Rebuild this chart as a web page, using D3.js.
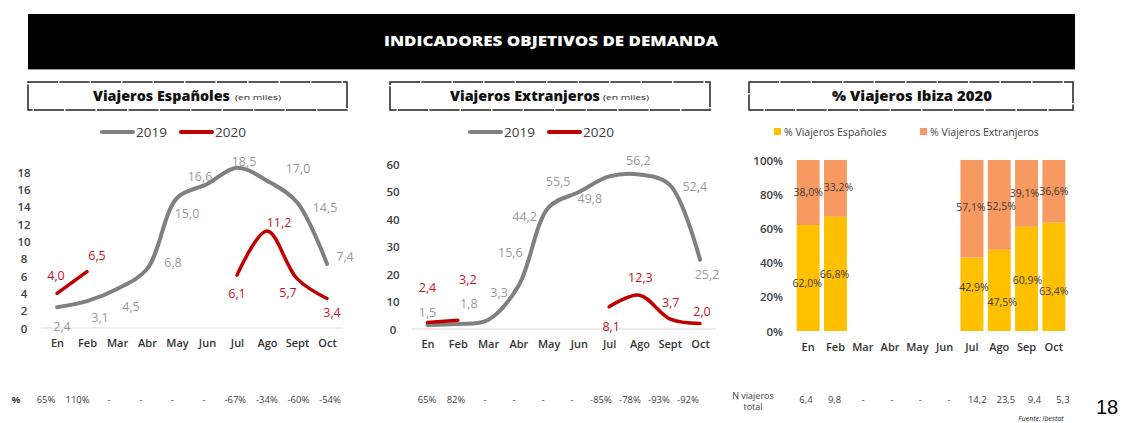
<!DOCTYPE html>
<html><head><meta charset="utf-8">
<script src="https://cdn.jsdelivr.net/npm/d3@7"></script>
<style>
html,body{margin:0;padding:0;background:#fff;}
svg{display:block;font-family:"Open Sans",sans-serif;}
</style></head>
<body>
<svg id="c" width="1121" height="423"></svg>
<script>
// ---------- DATA ----------
const months = ["En","Feb","Mar","Abr","May","Jun","Jul","Ago","Sept","Oct"];
const monthsPct = ["En","Feb","Mar","Abr","May","Jun","Jul","Ago","Sep","Oct"];
const esp2019 = [2.4,3.1,4.5,6.8,15.0,16.6,18.5,17.0,14.5,7.4];
const esp2020 = [4.0,6.5,null,null,null,null,6.1,11.2,5.7,3.4];
const ext2019 = [1.5,1.8,3.3,15.6,44.2,49.8,55.5,56.2,52.4,25.2];
const ext2020 = [2.4,3.2,null,null,null,null,8.1,12.3,3.7,2.0];
const pctEsp = [62.0,66.8,null,null,null,null,42.9,47.5,60.9,63.4];
const pctExt = [38.0,33.2,null,null,null,null,57.1,52.5,39.1,36.6];
const espTicks = [0,2,4,6,8,10,12,14,16,18];
const extTicks = [0,10,20,30,40,50,60];
const pctTicks = [0,20,40,60,80,100];
const varEsp = ["65%","110%","-","-","-","-","-67%","-34%","-60%","-54%"];
const varExt = ["65%","82%","-","-","-","-","-85%","-78%","-93%","-92%"];
const totalViajeros = ["6,4","9,8","-","-","-","-","14,2","23,5","9,4","5,3"];
const seriesNames = ["2019","2020"];
const pctNames = ["% Viajeros Españoles","% Viajeros Extranjeros"];

// ---------- label placement (offsets from point) ----------
const offEsp19 = [[5,19],[13,16],[14,17],[26,-7],[10,15],[-7,-8],[7,-6],[31,-12],[28,5],[18,-7]];
const offEsp20 = [[-1,-18],[10,-16],null,null,null,null,[0,18],[12,-8],[-9,14],[5,14]];
const offExt19 = [[0,-12],[11,-21],[11,-27],[-8,-34],[-24,9],[11,6],[-51,5],[-1,-14],[25,2],[7,15]];
const offExt20 = [[0,-35],[10,-41],null,null,null,null,[2,20],[1,-18],[1,-16],[2,-12]];
const offPctEsp = [[-1,5],[-1,0],null,null,null,null,[2,-7],[3,12],[1,1],[0,14]];
const offPctExt = [[0,0],[3,-1],null,null,null,null,[-1,-2],[2,1],[-2,0],[0,0]];

const GRAY="#808080", RED="#C00000", TXT="#404040", YEL="#FFC000", ORA="#F79A62";
const fmt = v => d3.format(".1f")(v).replace(".",",");

const svg = d3.select("#c");

// ---------- header ----------
svg.append("rect").attr("x",28).attr("y",14).attr("width",1047).attr("height",55).attr("fill","#000");
svg.append("line").attr("x1",28).attr("x2",1075).attr("y1",69.5).attr("y2",69.5).attr("stroke","#999");
svg.append("text").attr("x",551).attr("y",46).attr("text-anchor","middle")
  .attr("fill","#fff").attr("font-weight",800).attr("font-size",14)
  .attr("textLength",334).attr("lengthAdjust","spacingAndGlyphs")
  .text("INDICADORES OBJETIVOS DE DEMANDA");

function titleBox(x0,x1,title,tx,tw,sub,sx,sw){
  svg.append("rect").attr("x",x0).attr("y",82).attr("width",x1-x0).attr("height",28)
    .attr("fill","none").attr("stroke","#222").attr("stroke-width",1.5).attr("stroke-dasharray","30,1.5");
  svg.append("text").attr("x",tx).attr("y",101).attr("font-weight",800).attr("font-size",13.5)
    .attr("fill","#111").attr("textLength",tw).attr("lengthAdjust","spacingAndGlyphs").text(title);
  if(sub) svg.append("text").attr("x",sx).attr("y",100).attr("font-size",8).attr("fill","#222")
    .attr("textLength",sw).attr("lengthAdjust","spacingAndGlyphs").text(sub);
}
titleBox(28,347,"Viajeros Españoles",93,137,"(en miles)",235,46);
titleBox(390,710,"Viajeros Extranjeros",450,150,"(en miles)",603,46);
titleBox(749,1073,"% Viajeros Ibiza 2020",832,160,null);

// ---------- line chart helper ----------
function lineChart(cfg){
  const g = svg.append("g");
  const x = d3.scalePoint(months,[cfg.x0,cfg.x1]);
  const y = d3.scaleLinear(cfg.domain,[cfg.yb,cfg.yt]);
  const step = x.step();
  g.append("line").attr("x1",cfg.x0-step*0.53).attr("x2",cfg.x1+step*0.53)
    .attr("y1",y(0)).attr("y2",y(0)).attr("stroke","#d9d9d9").attr("stroke-width",1);
  const ya = g.append("g").attr("transform",`translate(${cfg.tickX},0)`)
    .call(d3.axisLeft(y).tickValues(cfg.ticks).tickSize(0).tickPadding(0));
  ya.select(".domain").remove();
  ya.selectAll("text").attr("text-anchor","middle").attr("font-size",11.5)
    .attr("font-family","Open Sans").attr("font-weight",600).attr("fill",TXT).attr("dy","0.36em");
  const xa = g.append("g").attr("transform",`translate(0,${y(0)})`)
    .call(d3.axisBottom(x).tickSize(0).tickPadding(11));
  xa.select(".domain").remove();
  xa.selectAll("text").attr("font-size",11).attr("font-family","Open Sans").attr("font-weight",600).attr("fill","#333");
  const line = d3.line().defined(d=>d.v!=null).x(d=>x(d.m)).y(d=>y(d.v)).curve(d3.curveCatmullRom.alpha(0.5));
  const s19 = months.map((m,i)=>({m,v:cfg.s19[i],i}));
  const s20 = months.map((m,i)=>({m,v:cfg.s20[i],i}));
  g.append("path").attr("d",line(s19)).attr("fill","none").attr("stroke",GRAY).attr("stroke-width",4).attr("stroke-linecap","round");
  g.append("path").attr("d",line(s20)).attr("fill","none").attr("stroke",RED).attr("stroke-width",3.5).attr("stroke-linecap","round");
  g.selectAll(".l19").data(s19).join("text").attr("text-anchor","middle")
    .attr("x",d=>x(d.m)+cfg.o19[d.i][0]).attr("y",d=>y(d.v)+cfg.o19[d.i][1]).attr("dy","0.36em")
    .attr("font-size",12.5).attr("fill","#9a9a9a").text(d=>fmt(d.v));
  g.selectAll(".l20").data(s20.filter(d=>d.v!=null)).join("text").attr("text-anchor","middle")
    .attr("x",d=>x(d.m)+cfg.o20[d.i][0]).attr("y",d=>y(d.v)+cfg.o20[d.i][1]).attr("dy","0.36em")
    .attr("font-size",12.5).attr("fill","#C0141E").text(d=>fmt(d.v));
  const ly = 132;
  const lg = g.append("g");
  [[GRAY,cfg.leg[0]],[RED,cfg.leg[1]]].forEach(([c,lx],k)=>{
    lg.append("line").attr("x1",lx).attr("x2",lx+31).attr("y1",ly).attr("y2",ly)
      .attr("stroke",c).attr("stroke-width",4).attr("stroke-linecap","round");
    lg.append("text").attr("x",lx+34).attr("y",ly).attr("dy","0.36em").attr("font-size",13.5)
      .attr("fill",TXT).text(seriesNames[k]);
  });
  const rx = d3.scalePoint(months,cfg.rowRange);
  g.selectAll(".row").data(cfg.row).join("text").attr("text-anchor","middle")
    .attr("x",(d,i)=>rx(months[i])).attr("y",403).attr("font-size",9.5).attr("fill",TXT).text(d=>d);
}

lineChart({x0:57,x1:327,domain:[0,18],yb:328,yt:172,tickX:24,ticks:espTicks,
  s19:esp2019,s20:esp2020,o19:offEsp19,o20:offEsp20,leg:[102,181],row:varEsp,rowRange:[46,330]});
lineChart({x0:427.5,x1:700,domain:[0,60],yb:329,yt:164,tickX:393,ticks:extTicks,
  s19:ext2019,s20:ext2020,o19:offExt19,o20:offExt20,leg:[470,549],row:varExt,rowRange:[427,688]});

svg.append("text").attr("x",16).attr("y",403).attr("text-anchor","middle").attr("font-size",9.5)
  .attr("font-weight",700).attr("fill",TXT).text("%");

// ---------- stacked bar chart ----------
(function(){
  const g = svg.append("g");
  const x = d3.scaleBand(monthsPct,[794.5,1067.5]).paddingInner(0.16).paddingOuter(0.08);
  const y = d3.scaleLinear([0,100],[331,160]);
  const ya = g.append("g").attr("transform","translate(783,0)")
    .call(d3.axisLeft(y).tickValues(pctTicks).tickSize(0).tickPadding(0).tickFormat(d=>d+"%"));
  ya.select(".domain").remove();
  ya.selectAll("text").attr("font-size",11.5).attr("font-family","Open Sans").attr("font-weight",600).attr("fill",TXT).attr("dy","0.36em");
  const xa = g.append("g").attr("transform","translate(0,331)")
    .call(d3.axisBottom(x).tickSize(0).tickPadding(12));
  xa.select(".domain").remove();
  xa.selectAll("text").attr("font-size",11).attr("font-family","Open Sans").attr("font-weight",600).attr("fill","#333");
  const data = monthsPct.map((m,i)=>({m,i,a:pctEsp[i],b:pctExt[i]})).filter(d=>d.a!=null);
  g.selectAll(".ba").data(data).join("rect").attr("x",d=>x(d.m)).attr("width",x.bandwidth())
    .attr("y",d=>y(d.a)).attr("height",d=>y(0)-y(d.a)).attr("fill",YEL);
  g.selectAll(".bb").data(data).join("rect").attr("x",d=>x(d.m)).attr("width",x.bandwidth())
    .attr("y",d=>y(d.a+d.b)).attr("height",d=>y(d.a)-y(d.a+d.b)).attr("fill",ORA);
  const pf = v => fmt(v)+"%";
  g.selectAll(".ta").data(data).join("text").attr("text-anchor","middle")
    .attr("x",d=>x(d.m)+x.bandwidth()/2+offPctEsp[d.i][0]).attr("y",d=>y(d.a/2)+offPctEsp[d.i][1])
    .attr("dy","0.36em").attr("font-size",10.5).attr("fill","#3a3a3a").text(d=>pf(d.a));
  g.selectAll(".tb").data(data).join("text").attr("text-anchor","middle")
    .attr("x",d=>x(d.m)+x.bandwidth()/2+offPctExt[d.i][0]).attr("y",d=>y(d.a+d.b/2)+offPctExt[d.i][1])
    .attr("dy","0.36em").attr("font-size",10.5).attr("fill","#3a3a3a").text(d=>pf(d.b));
  [[YEL,774,pctNames[0]],[ORA,920,pctNames[1]]].forEach(([c,lx,t])=>{
    g.append("rect").attr("x",lx).attr("y",128).attr("width",7).attr("height",7).attr("fill",c);
    g.append("text").attr("x",lx+10).attr("y",132).attr("dy","0.36em").attr("font-size",10.5).attr("fill",TXT).text(t);
  });
  g.append("text").attr("x",753).attr("y",399).attr("text-anchor","middle").attr("font-size",9).attr("fill",TXT).text("N viajeros");
  g.append("text").attr("x",753).attr("y",410).attr("text-anchor","middle").attr("font-size",9).attr("fill",TXT).text("total");
  const rx = d3.scalePoint(monthsPct,[806,1063]);
  g.selectAll(".tot").data(totalViajeros).join("text").attr("text-anchor","middle")
    .attr("x",(d,i)=>rx(monthsPct[i])).attr("y",403).attr("font-size",9.5).attr("fill",TXT).text(d=>d);
})();

svg.append("text").attr("x",1041).attr("y",421).attr("text-anchor","middle").attr("font-size",7)
  .attr("font-style","italic").attr("fill","#222").text("Fuente: Ibestat");
svg.append("text").attr("x",1107).attr("y",414).attr("text-anchor","middle").attr("font-size",20)
  .attr("font-family","Liberation Sans, Arial").attr("fill","#000").text("18");
</script>
</body></html>
